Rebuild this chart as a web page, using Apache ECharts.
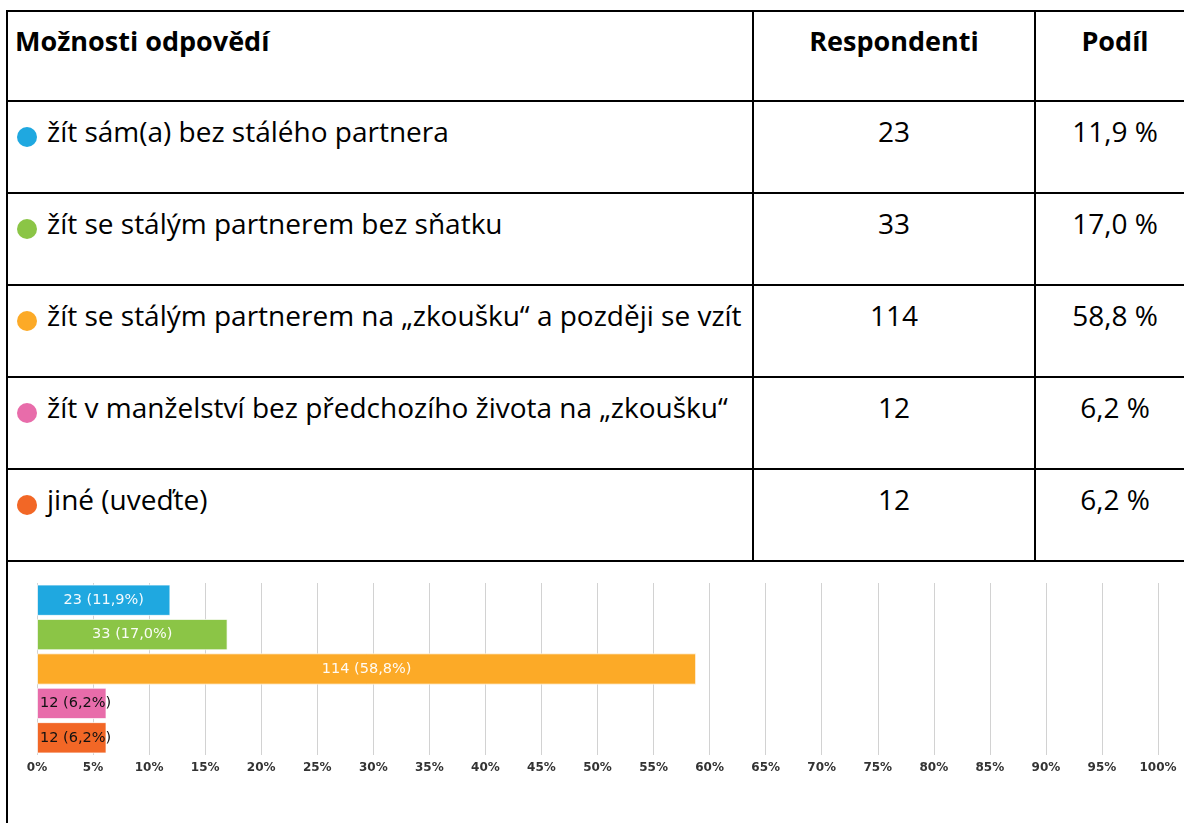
<!DOCTYPE html>
<html>
<head>
<meta charset="utf-8">
<script src="https://cdn.jsdelivr.net/npm/echarts@6/dist/echarts.min.js"></script>
<style>
  html, body { margin: 0; padding: 0; background: #fff; }
  body { width: 1184px; height: 823px; overflow: hidden; position: relative; font-family: "Open Sans", Lato, sans-serif; color: #000; }
  .hl { position: absolute; height: 2px; background: #000; z-index: 5; }
  .vl { position: absolute; width: 2px; background: #000; z-index: 5; }
  .txt { position: absolute; white-space: nowrap; font-size: 28px; line-height: 32px; }
  .hdr { font-weight: bold; font-size: 27px; }
  .ctr { text-align: center; }
  .dot { position: absolute; width: 20px; height: 20px; border-radius: 50%; }
  #chart { position: absolute; left: 0; top: 561px; width: 1184px; height: 262px; z-index: 1; }
</style>
</head>
<body>
<div id="chart"></div>
<script>
// ---- data ----
const headers = ["Možnosti odpovědí", "Respondenti", "Podíl"];
const categories = [
  "žít sám(a) bez stálého partnera",
  "žít se stálým partnerem bez sňatku",
  "žít se stálým partnerem na „zkoušku“ a později se vzít",
  "žít v manželství bez předchozího života na „zkoušku“",
  "jiné (uveďte)"
];
const respondents = [23, 33, 114, 12, 12];
const shares = [11.9, 17.0, 58.8, 6.2, 6.2];
const colors = ["#1fa8e0", "#8bc546", "#fcaa27", "#e86caa", "#f26726"];
const axisTicks = [0, 5, 10, 15, 20, 25, 30, 35, 40, 45, 50, 55, 60, 65, 70, 75, 80, 85, 90, 95, 100];

// ---- table layout ----
const rowLines = [11, 101, 193, 285, 377, 469, 561];
const colLines = [7, 753, 1035, 1195];
const fmt = v => v.toFixed(1).replace('.', ',');

function el(cls, style, text) {
  const d = document.createElement('div');
  d.className = cls;
  Object.assign(d.style, style);
  if (text !== undefined) d.textContent = text;
  document.body.appendChild(d);
  return d;
}
rowLines.forEach(y => el('hl', { left: '6px', top: (y - 1) + 'px', width: '1200px' }));
el('vl', { left: (colLines[0] - 1) + 'px', top: '10px', height: '820px' });
[colLines[1], colLines[2]].forEach(x => el('vl', { left: (x - 1) + 'px', top: '10px', height: (rowLines[6] - 10) + 'px' }));

// header
el('txt hdr', { left: '15px', top: (rowLines[0] + 14) + 'px' }, headers[0]);
el('txt hdr ctr', { left: colLines[1] + 'px', width: (colLines[2] - colLines[1]) + 'px', top: (rowLines[0] + 14) + 'px' }, headers[1]);
el('txt hdr ctr', { left: colLines[2] + 'px', width: (colLines[3] - colLines[2]) + 'px', top: (rowLines[0] + 14) + 'px' }, headers[2]);

categories.forEach((c, i) => {
  const top = rowLines[i + 1];
  el('dot', { left: '17px', top: (top + 26) + 'px', background: colors[i] });
  el('txt', { left: '47px', top: (top + 14) + 'px' }, c);
  el('txt ctr', { left: colLines[1] + 'px', width: (colLines[2] - colLines[1]) + 'px', top: (top + 14) + 'px' }, String(respondents[i]));
  el('txt ctr', { left: colLines[2] + 'px', width: (colLines[3] - colLines[2]) + 'px', top: (top + 14) + 'px' }, fmt(shares[i]) + ' %');
});

// ---- chart ----
const chart = echarts.init(document.getElementById('chart'), null, { renderer: 'canvas' });
chart.setOption({
  animation: false,
  grid: { left: 37, right: 26, top: 22, height: 172 },
  xAxis: {
    type: 'value', min: axisTicks[0], max: axisTicks[axisTicks.length - 1], interval: axisTicks[1] - axisTicks[0],
    axisLine: { show: false }, axisTick: { show: false },
    splitLine: { lineStyle: { color: '#d2d2d2', width: 1 } },
    axisLabel: { formatter: '{value}%', color: '#333', fontFamily: 'DejaVu Sans', fontWeight: 'bold', fontSize: 12, margin: 7 }
  },
  yAxis: {
    type: 'category', inverse: true, data: categories,
    axisLine: { show: false }, axisTick: { show: false }, axisLabel: { show: false }
  },
  series: [{
    type: 'bar',
    barCategoryGap: '9%',
    data: shares.map((v, i) => ({
      value: v,
      itemStyle: { color: colors[i], borderColor: 'rgba(255,255,255,0.7)', borderWidth: 1 },
      label: v < 10
        ? { position: 'insideLeft', distance: 3, color: '#111' }
        : { position: 'inside', color: 'rgba(255,255,255,0.95)' }
    })),
    label: {
      show: true, fontFamily: 'DejaVu Sans', fontSize: 14.5,
      formatter: p => respondents[p.dataIndex] + ' (' + fmt(shares[p.dataIndex]) + '%)'
    }
  }]
});
</script>
</body>
</html>
